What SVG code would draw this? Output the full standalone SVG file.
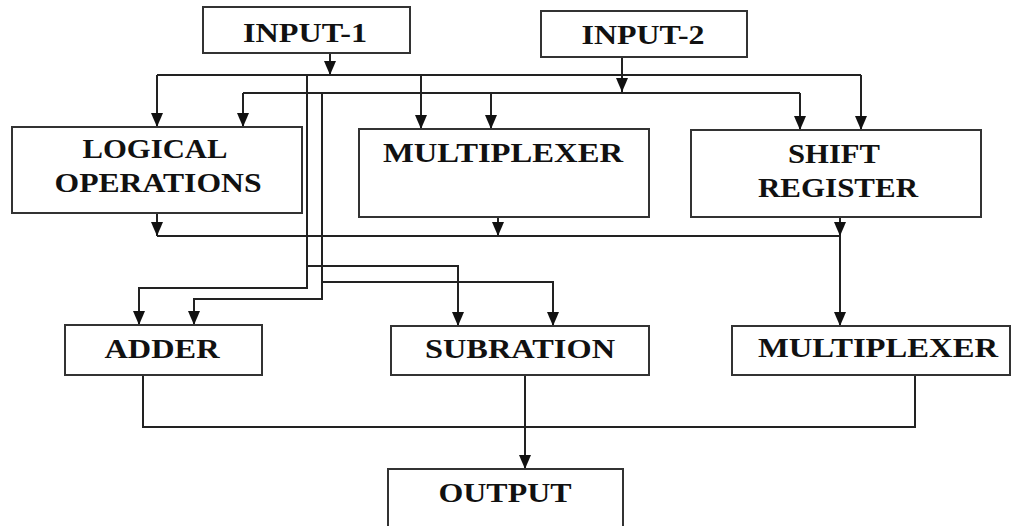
<svg xmlns="http://www.w3.org/2000/svg" width="1013" height="526" viewBox="0 0 1013 526">
<style>
.box{fill:#fff;stroke:#333;stroke-width:2}
.lbl{font-family:"Liberation Serif","Times New Roman",serif;font-weight:bold;font-size:28px;fill:#111;text-anchor:middle}
.c{fill:none;stroke:#222;stroke-width:2}
</style>
<defs>
<marker id="ah" markerUnits="userSpaceOnUse" markerWidth="14" markerHeight="12" refX="14" refY="6" orient="auto">
<path d="M0,0 L14,6 L0,12 Z" fill="#111"/>
</marker>
</defs>
<rect width="1013" height="526" fill="#fff"/>
<g id="connectors">
<path class="c" d="M330,53 V75" marker-end="url(#ah)"/>
<path class="c" d="M157,75 H861"/>
<path class="c" d="M157,75 V127" marker-end="url(#ah)"/>
<path class="c" d="M421,75 V129" marker-end="url(#ah)"/>
<path class="c" d="M861,75 V130" marker-end="url(#ah)"/>
<path class="c" d="M622,57 V92" marker-end="url(#ah)"/>
<path class="c" d="M243,93 H800"/>
<path class="c" d="M243,93 V127" marker-end="url(#ah)"/>
<path class="c" d="M491,93 V129" marker-end="url(#ah)"/>
<path class="c" d="M800,93 V130" marker-end="url(#ah)"/>
<path class="c" d="M307,75 V288 H139 V325" marker-end="url(#ah)"/>
<path class="c" d="M307,266 H458 V326" marker-end="url(#ah)"/>
<path class="c" d="M322,93 V299 H194 V325" marker-end="url(#ah)"/>
<path class="c" d="M322,282 H553 V326" marker-end="url(#ah)"/>
<path class="c" d="M157,213 V236" marker-end="url(#ah)"/>
<path class="c" d="M498,217 V236" marker-end="url(#ah)"/>
<path class="c" d="M840,217 V236" marker-end="url(#ah)"/>
<path class="c" d="M157,236 H840"/>
<path class="c" d="M840,236 V326" marker-end="url(#ah)"/>
<path class="c" d="M143,375 V427 H915 V375"/>
<path class="c" d="M525,375 V469" marker-end="url(#ah)"/>
</g>
<g id="input1"><rect class="box" x="203" y="7" width="207" height="46"/><text class="lbl" x="305" y="42" textLength="124" lengthAdjust="spacingAndGlyphs">INPUT-1</text></g>
<g id="input2"><rect class="box" x="541" y="11" width="206" height="46"/><text class="lbl" x="643" y="44" textLength="123" lengthAdjust="spacingAndGlyphs">INPUT-2</text></g>
<g id="logical"><rect class="box" x="12" y="127" width="290" height="86"/><text class="lbl" x="155" y="158" textLength="145" lengthAdjust="spacingAndGlyphs">LOGICAL</text><text class="lbl" x="158" y="192" textLength="207" lengthAdjust="spacingAndGlyphs">OPERATIONS</text></g>
<g id="mux1"><rect class="box" x="359" y="129" width="290" height="88"/><text class="lbl" x="503" y="162" textLength="240" lengthAdjust="spacingAndGlyphs">MULTIPLEXER</text></g>
<g id="shift"><rect class="box" x="691" y="130" width="290" height="87"/><text class="lbl" x="834" y="163" textLength="92" lengthAdjust="spacingAndGlyphs">SHIFT</text><text class="lbl" x="838" y="197" textLength="160" lengthAdjust="spacingAndGlyphs">REGISTER</text></g>
<g id="adder"><rect class="box" x="65" y="325" width="197" height="50"/><text class="lbl" x="162" y="358" textLength="115" lengthAdjust="spacingAndGlyphs">ADDER</text></g>
<g id="sub"><rect class="box" x="391" y="326" width="258" height="49"/><text class="lbl" x="520" y="358" textLength="190" lengthAdjust="spacingAndGlyphs">SUBRATION</text></g>
<g id="mux2"><rect class="box" x="732" y="326" width="278" height="49"/><text class="lbl" x="878" y="357" textLength="240" lengthAdjust="spacingAndGlyphs">MULTIPLEXER</text></g>
<g id="output"><rect class="box" x="388" y="469" width="235" height="70"/><text class="lbl" x="505" y="502" textLength="133" lengthAdjust="spacingAndGlyphs">OUTPUT</text></g>
</svg>
